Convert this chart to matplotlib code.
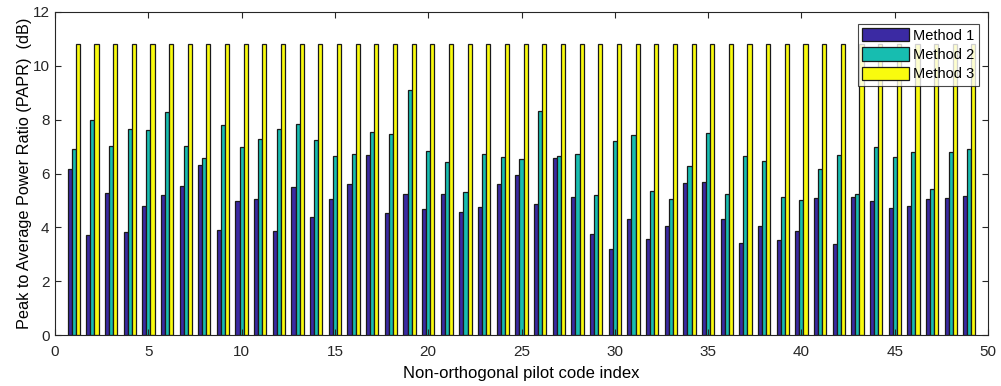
import matplotlib

matplotlib.use("Agg")

import matplotlib.pyplot as plt
import numpy as np

plt.rcParams["font.family"] = ["Liberation Sans", "DejaVu Sans"]

# PAPR per pilot code (dB)
code_index = list(range(1, 50))
method1 = [6.17, 3.70, 5.29, 3.84, 4.78, 5.20, 5.54, 6.32, 3.89, 4.98,
           5.04, 3.86, 5.51, 4.38, 5.05, 5.60, 6.67, 4.53, 5.24, 4.68,
           5.24, 4.57, 4.76, 5.61, 5.94, 4.88, 6.59, 5.13, 3.74, 3.20,
           4.31, 3.58, 4.05, 5.63, 5.70, 4.30, 3.41, 4.05, 3.53, 3.85,
           5.09, 3.38, 5.11, 4.99, 4.71, 4.79, 5.07, 5.08, 5.18]
method2 = [6.90, 7.99, 7.03, 7.67, 7.62, 8.27, 7.02, 6.56, 7.79, 6.98,
           7.29, 7.64, 7.83, 7.23, 6.64, 6.71, 7.53, 7.46, 9.09, 6.82,
           6.41, 5.31, 6.71, 6.63, 6.53, 8.31, 6.65, 6.71, 5.20, 7.21,
           7.42, 5.34, 5.05, 6.28, 7.50, 5.23, 6.66, 6.46, 5.11, 5.03,
           6.15, 6.67, 5.24, 7.00, 6.60, 6.80, 5.41, 6.80, 6.91]
method3 = [10.8] * 49

series = [("Method 1", method1, "#3b2aa3"),
          ("Method 2", method2, "#17bdb0"),
          ("Method 3", method3, "#f9fb0e")]

fig = plt.figure(figsize=(10.01, 3.86), dpi=100)
ax = fig.add_axes([0.055, 0.132, 0.932, 0.837])

x = np.array(code_index)
w = 0.22
for i, (name, vals, color) in enumerate(series):
    ax.bar(x + (i - 1) * w, vals, width=w, color=color,
           edgecolor="#1a1a1a", linewidth=0.9, label=name)

ax.set_xlim(0, 50)
ax.set_ylim(0, 12)
ax.set_xticks(range(0, 51, 5))
ax.set_yticks(range(0, 13, 2))
ax.tick_params(direction="in", top=True, right=True, length=4,
               width=0.8, labelsize=11, colors="#262626")
ax.tick_params(axis="x", pad=7)
ax.tick_params(axis="y", pad=4)
for s in ax.spines.values():
    s.set_color("#262626")
    s.set_linewidth(0.8)

ax.set_xlabel("Non-orthogonal pilot code index", fontsize=12, labelpad=5)
ax.set_ylabel("Peak to Average Power Ratio (PAPR)  (dB)", fontsize=11.7,
              labelpad=0)

leg = ax.legend(loc="upper right", bbox_to_anchor=(0.9904, 0.963),
                fontsize=10.5, frameon=True, fancybox=False,
                handlelength=3.2, handleheight=1.0, handletextpad=0.3,
                borderpad=0.3, labelspacing=0.32, borderaxespad=0.0)
leg.get_frame().set_edgecolor("#1a1a1a")
leg.get_frame().set_linewidth(0.8)

fig.savefig("out.png", dpi=100)
